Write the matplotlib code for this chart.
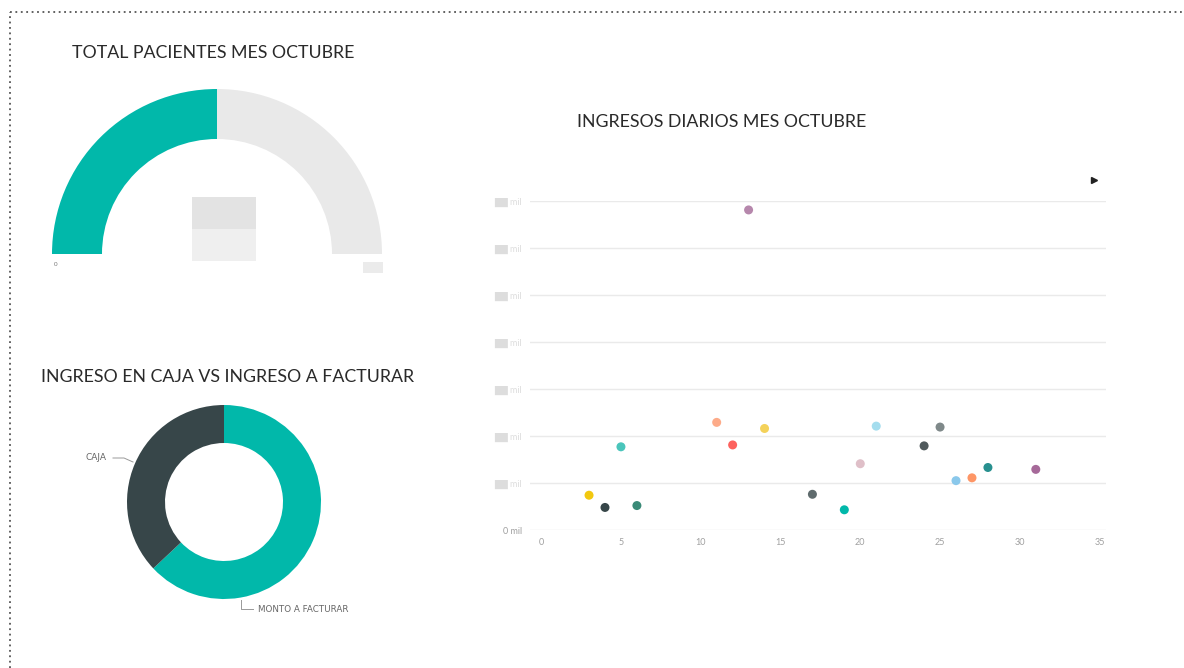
import matplotlib.pyplot as plt
from matplotlib.lines import Line2D
from matplotlib.patches import Rectangle

# datos
dias = [3, 4, 5, 6, 11, 12, 13, 14, 17, 19, 20, 21, 24, 25, 26, 27, 28, 31]
ingresos = [0.74, 0.48, 1.77, 0.52, 2.29, 1.81, 6.81, 2.16, 0.76, 0.43,
            1.41, 2.21, 1.79, 2.19, 1.05, 1.11, 1.33, 1.29]
colores_dias = ["#F2C80F", "#374649", "#4AC5BB", "#3A8A77", "#FDAB89", "#FD625E",
                "#B687AC", "#F4D25A", "#5F6B6D", "#01B8AA", "#DFBFC8", "#A4DDEE",
                "#505A5C", "#7F898A", "#8AC8EB", "#FE9666", "#28908F", "#A66999"]
y_ticks = [0, 1, 2, 3, 4, 5, 6, 7]
y_labels = ["0 mil"] + ["\u2588\u2588 mil"] * 7
x_ticks = [0, 5, 10, 15, 20, 25, 30, 35]

pacientes = 50
pacientes_max = 100

caja_labels = ["MONTO A FACTURAR", "CAJA"]
caja_valores = [63, 37]
caja_colores = ["#01B8AA", "#374649"]

W, H = 1184, 668
plt.rcParams['font.family'] = ['Lato', 'DejaVu Sans']
fig = plt.figure(figsize=(W / 100, H / 100), dpi=100)


def px(x, y):
    return x / W, 1 - y / H


titulo = dict(ha="center", va="center", fontsize=12.8, color="#2A2A2A")

# borde punteado
fig.add_artist(Line2D([10 / W, 1], [1 - 12 / H] * 2, color="#555555", lw=1.3,
                      linestyle=(0, (1, 2))))
fig.add_artist(Line2D([10 / W] * 2, [0, 1 - 12 / H], color="#555555", lw=1.3,
                      linestyle=(0, (1, 2))))

# gauge
r = 165
ax_g = fig.add_axes([(217 - r) / W, (H - 254 - r) / H, 2 * r / W, 2 * r / H])
ax_g.pie([pacientes, pacientes_max - pacientes, pacientes_max], startangle=180,
         counterclock=False, colors=["#01B8AA", "#E9E9E9", "none"],
         wedgeprops=dict(width=50 / 165, linewidth=0))
ax_g.set_xlim(-1, 1)
ax_g.set_ylim(-1, 1)
ax_g.axis("off")
fig.text(*px(213, 53), "TOTAL PACIENTES MES OCTUBRE", **titulo)
fig.text(*px(54, 265), "0", fontsize=4.5, color="#777777", ha="left", va="center")
fig.add_artist(Rectangle(px(192, 229), 64 / W, 32 / H, color="#E3E3E3", lw=0))
fig.add_artist(Rectangle(px(192, 261), 64 / W, 32 / H, color="#EFEFEF", lw=0))
fig.add_artist(Rectangle(px(363, 273), 20 / W, 11 / H, color="#EBEBEB", lw=0))

# dona
rd = 97
ax_d = fig.add_axes([(224 - rd) / W, (H - 502 - rd) / H, 2 * rd / W, 2 * rd / H])
ax_d.pie(caja_valores, startangle=90, counterclock=False, colors=caja_colores,
         wedgeprops=dict(width=38 / 97, linewidth=0))
ax_d.set_xlim(-1, 1)
ax_d.set_ylim(-1, 1)
ax_d.axis("off")
fig.text(*px(228, 377), "INGRESO EN CAJA VS INGRESO A FACTURAR", **titulo)
fig.text(*px(86, 458), caja_labels[1], fontsize=6.5, color="#666666", va="center",
         family=["DejaVu Sans"])
fig.add_artist(Line2D([113 / W, 124 / W, 133 / W],
                      [1 - 458 / H, 1 - 458 / H, 1 - 462 / H], color="#999999", lw=0.7))
fig.add_artist(Line2D([241 / W, 241 / W, 253 / W],
                      [1 - 600 / H, 1 - 609 / H, 1 - 609 / H], color="#999999", lw=0.7))
fig.text(*px(258, 609), caja_labels[0], fontsize=6.3, color="#666666", va="center",
         family=["DejaVu Sans"])

# dispersion
x0, x1 = 530, 1106
ax_s = fig.add_axes([x0 / W, (H - 530) / H, (x1 - x0) / W, (530 - 201) / H])
ax_s.scatter(dias, ingresos, c=colores_dias, s=42, linewidths=0, zorder=3)
ax_s.set_xlim(-0.7, 35.4)
ax_s.set_ylim(0, 7)
ax_s.set_yticks(y_ticks)
ax_s.set_yticklabels(y_labels)
ax_s.set_xticks(x_ticks)
ax_s.grid(axis="y", color="#EAEAEA", lw=1)
ax_s.set_axisbelow(True)
for s in ax_s.spines.values():
    s.set_visible(False)
ax_s.tick_params(length=0, labelsize=6.5, labelcolor="#A0A0A0", pad=6)
for t in ax_s.get_yticklabels()[1:]:
    t.set_color("#DDDDDD")
fig.text(*px(722, 122), "INGRESOS DIARIOS MES OCTUBRE", **titulo)
fig.add_artist(Line2D([1094 / W], [1 - 180 / H], marker=">", markersize=5,
                      color="#222222", lw=0))

fig.savefig("out.png", dpi=100)
